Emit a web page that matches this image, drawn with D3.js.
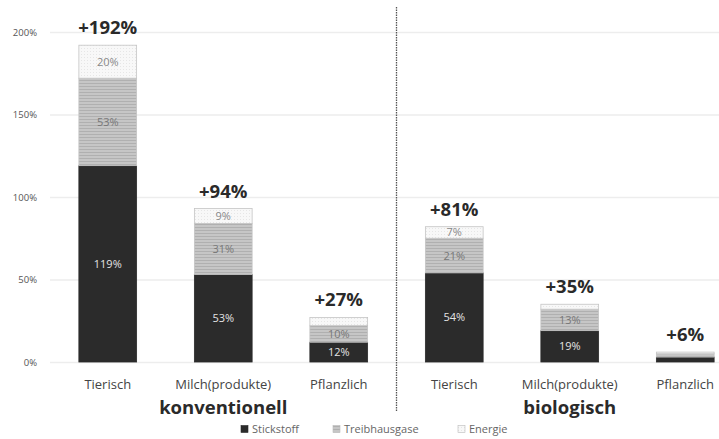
<!DOCTYPE html>
<html>
<head>
<meta charset="utf-8">
<script src="https://cdn.jsdelivr.net/npm/d3@7"></script>
<style>
  body { margin: 0; background: #fff; }
  svg { display: block; }
</style>
</head>
<body>
<div id="wrapper"></div>
<script>
// data
const categories = ["Tierisch", "Milch(produkte)", "Pflanzlich"]
const groups = ["konventionell", "biologisch"]
const seriesNames = ["Stickstoff", "Treibhausgase", "Energie"]
const stickstoff = [119, 53, 12, 54, 19, 3]
const treibhausgase = [53, 31, 10, 21, 13, 2]
const energie = [20, 9, 5, 7, 3, 1]
const totalLabels = ["+192%", "+94%", "+27%", "+81%", "+35%", "+6%"]
const yTicks = [0, 50, 100, 150, 200]

// build rows
const rows = []
groups.forEach((g, gi) => {
  categories.forEach((c, ci) => {
    const i = gi * categories.length + ci
    rows.push({
      key: g + "-" + c, group: g, category: c,
      Stickstoff: stickstoff[i], Treibhausgase: treibhausgase[i], Energie: energie[i],
      label: totalLabels[i]
    })
  })
})

// dimensions
const dimensions = { width: 719, height: 439 }

const wrapper = d3.select("#wrapper")
  .append("svg")
    .attr("width", dimensions.width)
    .attr("height", dimensions.height)
    .style("font-family", "'Open Sans', sans-serif")

// patterns
const defs = wrapper.append("defs")
const stripes = defs.append("pattern")
  .attr("id", "stripes")
  .attr("patternUnits", "userSpaceOnUse")
  .attr("width", 4).attr("height", 3)
stripes.append("rect").attr("width", 4).attr("height", 3).attr("fill", "#c6c6c6")
stripes.append("rect").attr("y", 2).attr("width", 4).attr("height", 1).attr("fill", "#b0b0b0")

const dots = defs.append("pattern")
  .attr("id", "dots")
  .attr("patternUnits", "userSpaceOnUse")
  .attr("width", 3).attr("height", 3)
dots.append("rect").attr("width", 3).attr("height", 3).attr("fill", "#f8f8f8")
dots.append("rect").attr("width", 1).attr("height", 1).attr("fill", "#e6e6e6")

const fills = {
  Stickstoff: "#2b2b2b",
  Treibhausgase: "url(#stripes)",
  Energie: "url(#dots)"
}
const textColors = { Stickstoff: "#e4e4e4", Treibhausgase: "#777", Energie: "#888" }

// scales
const xScale = d3.scaleBand()
  .domain(rows.map(d => d.key))
  .range([50, 743])
  .paddingInner(0.5)
  .paddingOuter(0.25)

const yScale = d3.scaleLinear()
  .domain([0, 200])
  .range([362, 32])

// gridlines + y axis
const yAxis = wrapper.append("g")
  .attr("transform", "translate(50,0)")
  .call(d3.axisLeft(yScale).tickValues(yTicks).tickFormat(d => d + "%").tickSize(-700))
yAxis.select(".domain").remove()
yAxis.selectAll(".tick line").attr("stroke", "#ededed").attr("stroke-width", 1.5)
yAxis.selectAll(".tick text")
  .attr("x", -13)
  .attr("font-size", 9.5)
  .attr("fill", "#555")
  .attr("font-family", "'Open Sans', sans-serif")

// stacks
const stack = d3.stack().keys(seriesNames)
const series = stack(rows)

const layers = wrapper.append("g")
  .selectAll("g")
  .data(series)
  .join("g")
    .attr("fill", d => fills[d.key])

layers.selectAll("rect")
  .data(d => d.map(v => Object.assign(v, { key: d.key })))
  .join("rect")
    .attr("x", d => xScale(d.data.key))
    .attr("width", xScale.bandwidth())
    .attr("y", d => yScale(d[1]))
    .attr("height", d => yScale(d[0]) - yScale(d[1]))
    .attr("stroke", d => d.key === "Stickstoff" ? "#2b2b2b" : "#c4c4c4")
    .attr("stroke-width", 0.8)

// segment labels
layers.selectAll("text")
  .data(d => d.filter(v => v[1] - v[0] >= 7))
  .join("text")
    .attr("x", d => xScale(d.data.key) + xScale.bandwidth() / 2)
    .attr("y", d => yScale((d[0] + d[1]) / 2) + 4)
    .attr("text-anchor", "middle")
    .attr("font-size", 11)
    .attr("fill", d => textColors[d.key])
    .text(d => (d[1] - d[0]) + "%")

// total labels
wrapper.append("g")
  .selectAll("text")
  .data(rows)
  .join("text")
    .attr("x", d => xScale(d.key) + xScale.bandwidth() / 2)
    .attr("y", d => yScale(d.Stickstoff + d.Treibhausgase + d.Energie) - 11)
    .attr("text-anchor", "middle")
    .attr("font-size", 18.5)
    .attr("font-weight", "bold")
    .attr("fill", "#2a2a2a")
    .text(d => d.label)

// category labels
wrapper.append("g")
  .selectAll("text")
  .data(rows)
  .join("text")
    .attr("x", d => xScale(d.key) + xScale.bandwidth() / 2)
    .attr("y", 389)
    .attr("text-anchor", "middle")
    .attr("font-size", 13)
    .attr("fill", "#444")
    .text(d => d.category)

// group labels
const groupCenters = groups.map(g => {
  const ks = rows.filter(d => d.group === g).map(d => xScale(d.key) + xScale.bandwidth() / 2)
  return { group: g, x: d3.mean(ks) }
})
wrapper.append("g")
  .selectAll("text")
  .data(groupCenters)
  .join("text")
    .attr("x", d => d.x)
    .attr("y", 414)
    .attr("text-anchor", "middle")
    .attr("font-size", 18.5)
    .attr("font-weight", "bold")
    .attr("fill", "#2a2a2a")
    .text(d => d.group)

// divider
const divX = (xScale(rows[2].key) + xScale.bandwidth() + xScale(rows[3].key)) / 2
wrapper.append("line")
  .attr("x1", divX).attr("x2", divX)
  .attr("y1", 7).attr("y2", 412)
  .attr("stroke", "#555")
  .attr("stroke-width", 1.3)
  .attr("stroke-dasharray", "1.5,1")

// legend
const legendX = [241, 333, 458]
const legend = wrapper.append("g")
  .selectAll("g")
  .data(seriesNames)
  .join("g")
    .attr("transform", (d, i) => `translate(${legendX[i]}, 433)`)
legend.append("rect")
  .attr("y", -7.5).attr("width", 7).attr("height", 7)
  .attr("fill", d => fills[d])
  .attr("stroke", d => d === "Stickstoff" ? "#2b2b2b" : "#bbb")
  .attr("stroke-width", 0.6)
legend.append("text")
  .attr("x", 11)
  .attr("font-size", 11)
  .attr("fill", "#666")
  .text(d => d)
</script>
</body>
</html>
